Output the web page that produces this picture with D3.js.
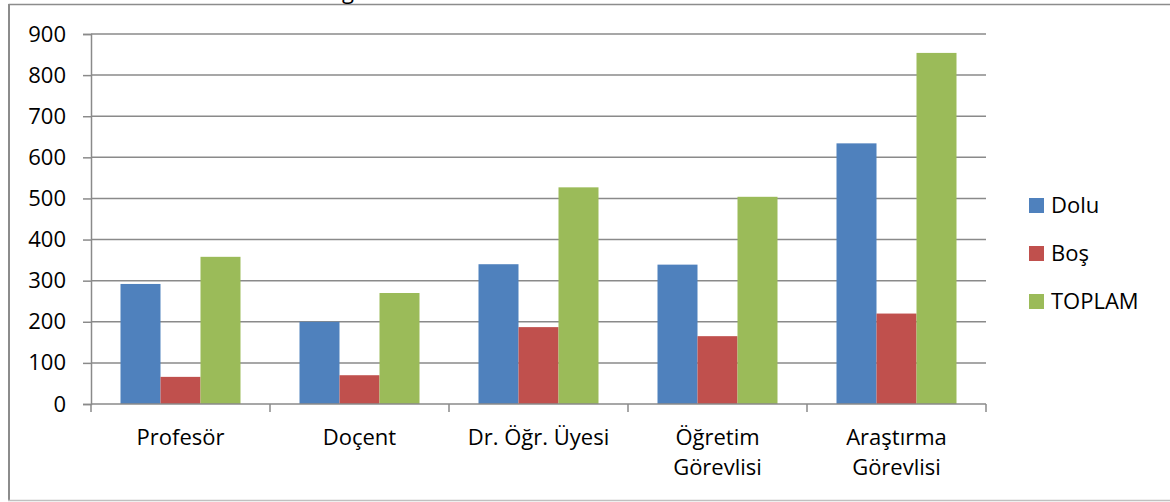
<!DOCTYPE html>
<html>
<head>
<meta charset="utf-8">
<script src="https://d3js.org/d3.v7.min.js"></script>
<style>
  body { margin: 0; background: #fff; }
  svg { display: block; font-family: "Open Sans", sans-serif; }
</style>
</head>
<body>
<div id="chart"></div>
<script>
// data
var categories = ["Profesör", "Doçent", "Dr. Öğr. Üyesi", "Öğretim Görevlisi", "Araştırma Görevlisi"];
var catLines = [["Profesör"], ["Doçent"], ["Dr. Öğr. Üyesi"], ["Öğretim", "Görevlisi"], ["Araştırma", "Görevlisi"]];
var series = ["Dolu", "Boş", "TOPLAM"];
var dolu = [292, 200, 340, 339, 634];
var bos = [66, 70, 187, 165, 220];
var toplam = [358, 270, 527, 504, 854];
var yTicks = [0, 100, 200, 300, 400, 500, 600, 700, 800, 900];
var colors = ["#4F81BD", "#C0504D", "#9BBB59"];

var width = 1170, height = 502;
var values = [dolu, bos, toplam];

var svg = d3.select("#chart").append("svg")
    .attr("width", width)
    .attr("height", height);

// outer frame (right side runs off the picture)
svg.append("line").attr("x1", 8.5).attr("x2", width).attr("y1", 4.5).attr("y2", 4.5)
    .attr("stroke", "#8c8c8c").attr("stroke-width", 1.5);
svg.append("line").attr("x1", 9).attr("x2", 9).attr("y1", 4).attr("y2", 501)
    .attr("stroke", "#8c8c8c").attr("stroke-width", 2);
svg.append("line").attr("x1", 8).attr("x2", width).attr("y1", 500.5).attr("y2", 500.5)
    .attr("stroke", "#c0c0c0").attr("stroke-width", 1.5);

// clipped caption above the frame
svg.append("text").attr("x", 348).attr("y", -1).attr("text-anchor", "middle")
    .attr("font-size", 22).attr("fill", "#000").text("g");

var x0 = d3.scaleBand().domain(categories).range([91, 986]).paddingInner(0).paddingOuter(0);
var x1 = d3.scaleBand().domain(series).range([0, x0.bandwidth()]).paddingInner(0).paddingOuter(0.7375);
var y = d3.scaleLinear().domain([0, 900]).range([404, 34]);

// gridlines
svg.append("g").selectAll("line").data(yTicks.filter(function(d){ return d > 0; }))
    .enter().append("line")
    .attr("x1", 91).attr("x2", 986)
    .attr("y1", function(d){ return y(d); }).attr("y2", function(d){ return y(d); })
    .attr("stroke", "#8a8a8a").attr("stroke-width", 1.5);

// bars
var groups = svg.append("g").selectAll("g").data(categories)
    .enter().append("g")
    .attr("transform", function(d){ return "translate(" + x0(d) + ",0)"; });

groups.selectAll("rect")
    .data(function(d, i){ return series.map(function(s, j){ return {s: s, v: values[j][i], j: j}; }); })
    .enter().append("rect")
    .attr("x", function(d){ return x1(d.s); })
    .attr("width", x1.bandwidth())
    .attr("y", function(d){ return y(d.v); })
    .attr("height", function(d){ return y(0) - y(d.v); })
    .attr("fill", function(d){ return colors[d.j]; });

// y axis
var yAxis = svg.append("g").attr("transform", "translate(91,0)")
    .call(d3.axisLeft(y).tickValues(yTicks).tickSize(8).tickPadding(17));
yAxis.select(".domain").attr("stroke", "#8a8a8a").attr("stroke-width", 1.5);
yAxis.selectAll(".tick line").attr("stroke", "#8a8a8a").attr("stroke-width", 1.5);
yAxis.selectAll(".tick text").attr("font-size", 22).attr("font-family", "Open Sans, sans-serif")
    .attr("fill", "#000");

// x axis
var xAxis = svg.append("g").attr("transform", "translate(0,404)");
xAxis.append("line").attr("x1", 91).attr("x2", 986).attr("y1", 0).attr("y2", 0)
    .attr("stroke", "#8a8a8a").attr("stroke-width", 1.5);
var bounds = categories.map(function(d){ return x0(d); }).concat([x0.range()[1]]);
xAxis.selectAll("line.tk").data(bounds).enter().append("line")
    .attr("class", "tk")
    .attr("x1", function(d){ return d; }).attr("x2", function(d){ return d; })
    .attr("y1", 0).attr("y2", 8)
    .attr("stroke", "#8a8a8a").attr("stroke-width", 1.5);

svg.append("g").selectAll("text").data(categories)
    .enter().append("text")
    .attr("text-anchor", "middle")
    .attr("font-size", 22)
    .attr("fill", "#000")
    .each(function(d, i){
        var t = d3.select(this);
        catLines[i].forEach(function(line, k){
            t.append("tspan")
                .attr("x", x0(d) + x0.bandwidth() / 2)
                .attr("y", 445 + k * 30)
                .text(line);
        });
    });

// legend
var legend = svg.append("g").selectAll("g").data(series)
    .enter().append("g")
    .attr("transform", function(d, i){ return "translate(1029," + (198 + i * 48) + ")"; });
legend.append("rect").attr("width", 15).attr("height", 15)
    .attr("fill", function(d, i){ return colors[i]; });
legend.append("text").attr("x", 22).attr("y", 15)
    .attr("font-size", 22).attr("fill", "#000")
    .text(function(d){ return d; });
</script>
</body>
</html>
